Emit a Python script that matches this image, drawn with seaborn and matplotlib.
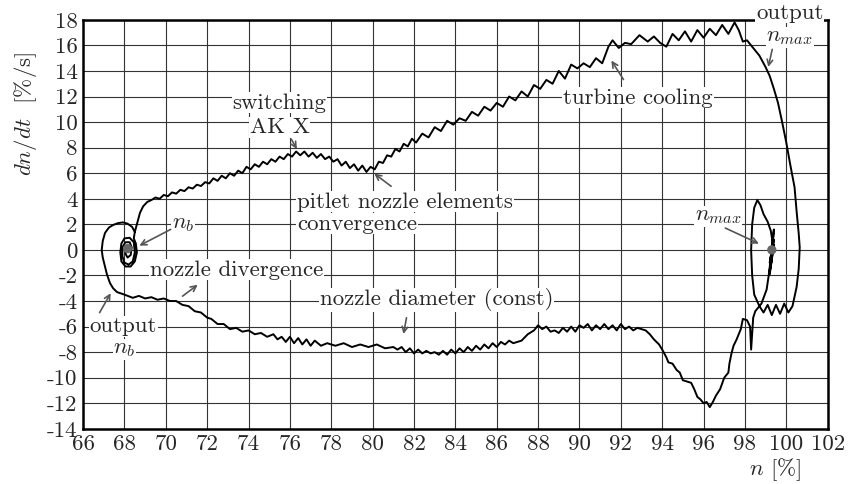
import seaborn as sns
import matplotlib.pyplot as plt
import pandas as pd

# phase trajectory: n [%] and dn/dt [%/s]
upper_n = [68.5, 68.6, 68.75, 68.9, 69.1, 69.3, 69.5, 69.7, 69.9, 70.1, 70.3, 70.5, 70.7, 70.9, 71.1, 71.3,
           71.5, 71.7, 71.9, 72.1, 72.3, 72.5, 72.7, 72.9, 73.1, 73.3, 73.5, 73.7, 73.9, 74.1, 74.3, 74.5,
           74.7, 74.9, 75.1, 75.3, 75.5, 75.7, 75.9, 76.1, 76.3, 76.5, 76.7, 76.9, 77.1, 77.3, 77.5, 77.7,
           77.9, 78.1, 78.3, 78.5, 78.7, 78.9, 79.1, 79.3, 79.5, 79.7, 79.9, 80.1, 80.3, 80.5, 80.7, 80.9,
           81.1, 81.3, 81.5, 81.7, 81.9, 82.1, 82.4, 82.7, 83.0, 83.3, 83.6, 83.9, 84.2, 84.5, 84.8, 85.1,
           85.4, 85.7, 86.0, 86.3, 86.6, 86.9, 87.2, 87.5, 87.8, 88.1, 88.4, 88.7, 89.0, 89.3, 89.6, 89.9,
           90.2, 90.5, 90.8, 91.1, 91.4, 91.6, 91.9, 92.2, 92.5, 92.9, 93.3, 93.6, 93.9, 94.2, 94.5, 94.8,
           95.1, 95.4, 95.7, 96.0, 96.3, 96.6, 96.9, 97.2, 97.5, 97.7, 97.9, 98.1, 98.4, 98.7, 99.0, 99.2,
           99.4, 99.6, 99.8, 100.0, 100.2, 100.4, 100.5, 100.6, 100.65, 100.6, 100.5, 100.3]
upper_v = [1.4, 2.0, 2.9, 3.4, 3.75, 3.9, 4.1, 4.0, 4.3, 4.2, 4.5, 4.4, 4.7, 4.6, 4.9, 4.8,
           5.1, 5.0, 5.3, 5.2, 5.6, 5.4, 5.8, 5.6, 6.0, 5.8, 6.2, 6.0, 6.5, 6.3, 6.7, 6.5,
           6.9, 6.7, 7.1, 6.9, 7.3, 7.1, 7.5, 7.3, 7.7, 7.4, 7.7, 7.3, 7.6, 7.2, 7.5, 7.1,
           7.3, 6.9, 7.1, 6.6, 6.9, 6.4, 6.7, 6.2, 6.6, 6.1, 6.5, 6.3, 6.9, 6.8, 7.4, 7.3,
           7.9, 7.7, 8.3, 8.1, 8.7, 8.4, 9.1, 8.8, 9.6, 9.3, 10.1, 9.8, 10.3, 10.1, 10.8, 10.5,
           11.2, 10.9, 11.5, 11.2, 12.0, 11.7, 12.4, 12.0, 12.9, 12.6, 13.3, 13.0, 14.0, 13.4, 14.5, 14.2,
           14.6, 14.3, 15.0, 14.6, 15.9, 16.4, 15.8, 16.2, 16.1, 16.8, 16.3, 16.7, 16.2, 15.9, 16.9, 16.4,
           17.1, 16.3, 17.2, 16.6, 17.3, 16.8, 17.6, 16.9, 17.8, 17.2, 16.3, 16.4, 15.8, 15.2, 14.3, 13.6,
           12.6, 11.5, 10.0, 8.4, 6.6, 4.9, 3.0, 1.3, 0.2, -1.5, -2.9, -4.4]

nmax_n = [100.1, 99.9, 99.7, 99.5, 99.3, 99.1, 98.9, 98.7, 98.45, 98.35, 98.3, 98.35, 98.45, 98.6,
          98.75, 98.9, 99.1, 99.25, 99.35, 99.2, 99.4, 99.2, 99.35, 99.2, 99.4, 99.25, 99.35, 99.2,
          99.4, 99.25, 99.3, 99.15, 99.05, 98.8, 98.5, 98.4, 98.35, 98.3, 98.25, 98.1, 97.9]
nmax_v = [-4.9, -4.2, -5.0, -4.3, -5.1, -4.3, -4.9, -4.4, -3.5, -2.0, 0.0, 2.0, 3.3, 3.9,
          3.5, 2.8, 2.2, 1.5, 0.5, -1.0, 0.8, -1.6, 1.2, -1.8, 1.6, -1.4, 1.0, -1.9, 0.4,
          -1.2, 0.0, -2.0, -3.1, -4.2, -4.8, -5.3, -6.5, -7.8, -6.0, -5.5, -5.4]

lower_n = [97.8, 97.6, 97.45, 97.35, 97.25, 97.2, 97.0, 96.8, 96.6, 96.45, 96.3, 96.15, 96.0, 95.85,
           95.7, 95.55, 95.4, 95.2, 95.0, 94.85, 94.7, 94.5, 94.3, 94.2, 94.0, 93.85, 93.6, 93.4, 93.2,
           93.0, 92.8, 92.6, 92.4, 92.2, 92.0, 91.8, 91.6, 91.4, 91.2, 91.0, 90.8, 90.6, 90.4, 90.2,
           90.0, 89.8, 89.6, 89.4, 89.2, 89.0, 88.8, 88.6, 88.4, 88.2, 88.0, 87.8, 87.5, 87.2, 87.0,
           86.8, 86.6, 86.4, 86.2, 86.0, 85.8, 85.6, 85.4, 85.2, 85.0, 84.8, 84.6, 84.4, 84.2, 84.0,
           83.8, 83.6, 83.4, 83.2, 83.0, 82.8, 82.6, 82.4, 82.2, 82.0, 81.8, 81.6, 81.4, 81.2, 81.0,
           80.6, 80.2, 79.8, 79.4, 79.0, 78.6, 78.2, 77.8, 77.5, 77.2, 77.0, 76.8, 76.6, 76.4, 76.2,
           76.0, 75.8, 75.6, 75.4, 75.2, 74.9, 74.6, 74.3, 74.0, 73.7, 73.4, 73.1, 72.8, 72.5, 72.2,
           72.0, 71.7, 71.4, 71.1, 70.8, 70.5, 70.2, 69.9, 69.6, 69.3, 69.0, 68.7, 68.4, 68.0]
lower_v = [-6.2, -7.0, -7.5, -8.1, -8.9, -9.6, -10.0, -10.9, -11.4, -11.9, -12.3, -11.9, -12.0, -11.7,
           -11.5, -10.9, -10.4, -10.3, -10.2, -9.6, -9.4, -8.9, -8.8, -8.4, -7.8, -7.4, -7.0, -6.6, -6.3,
           -6.2, -6.1, -6.3, -6.0, -6.2, -5.8, -6.3, -5.9, -6.2, -5.8, -6.2, -5.9, -6.3, -5.8, -6.1,
           -5.9, -6.4, -6.0, -6.4, -6.1, -6.5, -6.3, -6.4, -6.0, -6.2, -5.9, -6.3, -6.6, -7.1, -7.2,
           -7.3, -7.1, -7.4, -7.2, -7.6, -7.3, -7.7, -7.4, -7.8, -7.5, -7.9, -7.6, -8.0, -7.7, -8.1,
           -7.8, -8.2, -7.9, -8.2, -8.0, -8.1, -7.9, -8.1, -7.8, -8.1, -7.7, -8.0, -7.6, -7.8, -7.6,
           -7.7, -7.4, -7.6, -7.4, -7.6, -7.3, -7.5, -7.3, -7.5, -7.1, -7.5, -7.0, -7.4, -6.9, -7.3,
           -6.8, -7.2, -6.8, -7.0, -6.6, -6.8, -6.5, -6.6, -6.3, -6.4, -6.1, -6.2, -5.8, -5.8, -5.4,
           -5.3, -4.9, -4.8, -4.4, -4.3, -4.0, -4.0, -3.8, -3.9, -3.7, -3.8, -3.6, -3.75, -3.5]

left_n = [67.64, 67.45, 67.3, 67.15, 67.06, 66.95, 66.9, 66.95, 67.06, 67.25, 67.45, 67.7, 67.93,
          68.15, 68.37, 68.5, 68.45]
left_v = [-3.3, -3.0, -2.6, -1.9, -1.3, -0.6, 0.0, 0.7, 1.33, 1.75, 1.95, 2.1, 2.15,
          2.05, 1.8, 1.4, 0.9]

inner_n = [68.55, 68.6, 68.5, 68.3, 68.05, 67.85, 67.8, 67.85, 68.0, 68.25, 68.45, 68.5, 68.4, 68.2,
           68.0, 67.9, 67.9, 68.05, 68.25, 68.35, 68.3, 68.15, 68.05, 68.1, 68.2]
inner_v = [0.5, -0.2, -0.9, -1.3, -1.3, -0.9, -0.2, 0.5, 0.9, 0.95, 0.6, -0.2, -0.9, -1.15,
           -1.0, -0.5, 0.2, 0.6, 0.6, 0.2, -0.4, -0.6, -0.3, 0.1, 0.0]

centers_n = [68.15, 99.3]
centers_v = [0.1, 0.0]

n_all = upper_n + nmax_n + lower_n + left_n + inner_n
v_all = upper_v + nmax_v + lower_v + left_v + inner_v
df = pd.DataFrame({'n': n_all, 'dndt': v_all})

sns.set_style("white")
plt.rcParams['font.family'] = 'cmr10'
plt.rcParams['mathtext.fontset'] = 'cm'
plt.rcParams['axes.unicode_minus'] = False

fig, ax = plt.subplots(figsize=(8.48, 4.84), dpi=100)
fig.subplots_adjust(left=0.098, right=0.976, top=0.959, bottom=0.114)

sns.lineplot(data=df, x='n', y='dndt', sort=False, estimator=None, color='black', lw=1.4, ax=ax, zorder=3)
sns.scatterplot(x=centers_n, y=centers_v, color='#666666', s=45, edgecolor='none', ax=ax, zorder=4)

ax.set_xlim(66, 102)
ax.set_ylim(-14, 18)
ax.set_xticks(range(66, 103, 2))
ax.set_yticks(range(-14, 19, 2))
ax.grid(True, color='#333333', lw=0.8)
ax.set_axisbelow(True)
ax.tick_params(length=0, labelsize=16.5, pad=4)
for s in ax.spines.values():
    s.set_linewidth(1.8)
    s.set_color('black')

ax.set_xlabel(r'$n$ [%]', fontsize=16.5, va='center')
ax.xaxis.set_label_coords(0.929, -0.1)
ax.set_ylabel(r'$dn/dt$  [%/s]', fontsize=16.5, va='center')
ax.yaxis.set_label_coords(-0.078, 0.77)

box = dict(facecolor='white', edgecolor='none', pad=0.5)
arr = dict(arrowstyle='->', color='#555555', lw=1.2)
fs = 16.5

ax.text(75.5, 11.5, 'switching', ha='center', va='center', fontsize=fs, bbox=box, zorder=5)
ax.text(75.5, 9.6, 'AK X', ha='center', va='center', fontsize=fs, bbox=box, zorder=5)
ax.annotate('', xy=(76.4, 7.7), xytext=(76.0, 8.85), arrowprops=arr, zorder=5)

ax.text(76.34, 3.76, 'pitlet nozzle elements', ha='left', va='center', fontsize=fs, bbox=box, zorder=5)
ax.text(76.34, 2.04, 'convergence', ha='left', va='center', fontsize=fs, bbox=box, zorder=5)
ax.annotate('', xy=(79.97, 6.1), xytext=(81.0, 4.85), arrowprops=arr, zorder=5)

ax.text(92.83, 11.9, 'turbine cooling', ha='center', va='center', fontsize=fs, bbox=box, zorder=5)
ax.annotate('', xy=(91.47, 15.0), xytext=(92.2, 13.15), arrowprops=arr, zorder=5)

ax.text(100.17, 18.55, 'output', ha='center', va='center', fontsize=fs, bbox=box, zorder=5, clip_on=False)
ax.text(100.17, 16.6, r'$n_{max}$', ha='center', va='center', fontsize=fs, bbox=box, zorder=5)
ax.annotate('', xy=(99.1, 14.1), xytext=(99.35, 15.9), arrowprops=arr, zorder=5)

ax.text(96.7, 2.6, r'$n_{max}$', ha='center', va='center', fontsize=fs, bbox=box, zorder=5)
ax.annotate('', xy=(98.8, 0.4), xytext=(96.93, 1.8), arrowprops=arr, zorder=5)

ax.text(70.83, 2.0, r'$n_b$', ha='center', va='center', fontsize=fs, bbox=box, zorder=5)
ax.annotate('', xy=(68.6, 0.23), xytext=(70.35, 1.7), arrowprops=arr, zorder=5)

ax.text(69.24, -1.56, 'nozzle divergence', ha='left', va='center', fontsize=fs, bbox=box, zorder=5)
ax.annotate('', xy=(71.65, -2.6), xytext=(70.7, -3.75), arrowprops=arr, zorder=5)

ax.text(67.95, -6.0, 'output', ha='center', va='center', fontsize=fs, bbox=box, zorder=5)
ax.text(68.0, -7.8, r'$n_b$', ha='center', va='center', fontsize=fs, bbox=box, zorder=5)
ax.annotate('', xy=(67.4, -3.2), xytext=(66.73, -5.1), arrowprops=arr, zorder=5)

ax.text(83.1, -3.9, 'nozzle diameter (const)', ha='center', va='center', fontsize=fs, bbox=box, zorder=5)
ax.annotate('', xy=(81.47, -6.8), xytext=(81.66, -5.1), arrowprops=arr, zorder=5)

plt.savefig('out.png', dpi=100)
